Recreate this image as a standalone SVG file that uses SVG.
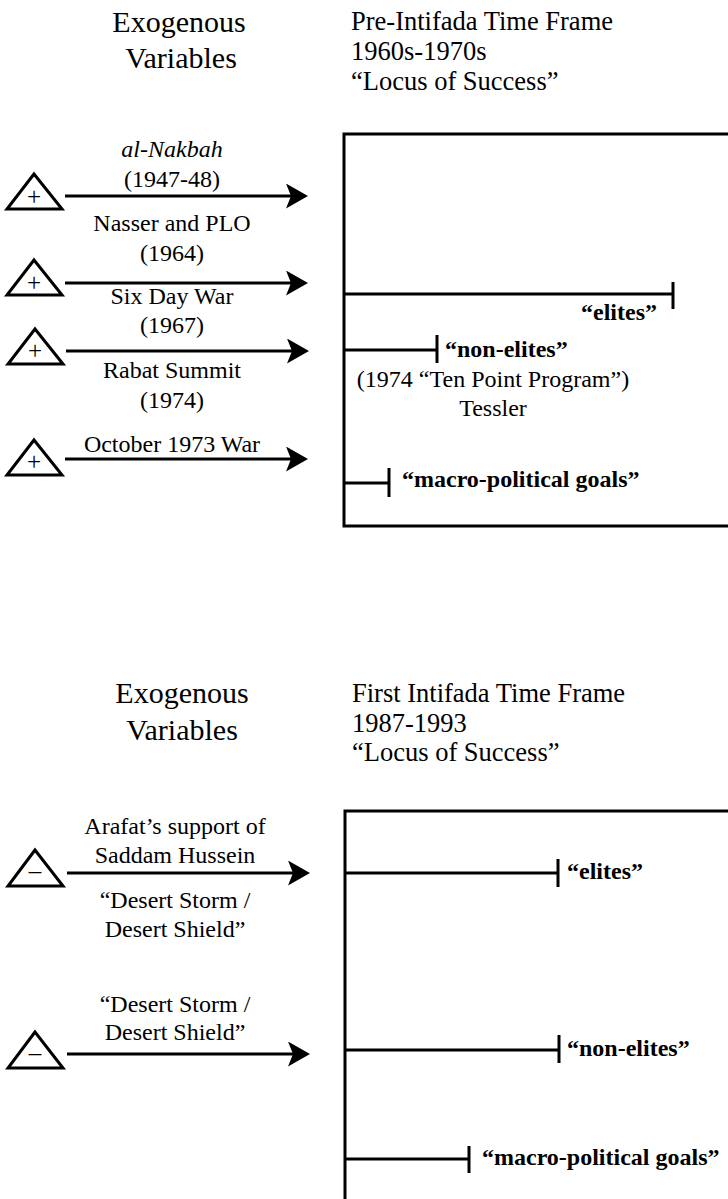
<svg xmlns="http://www.w3.org/2000/svg" width="728" height="1199" viewBox="0 0 728 1199">
<style>
text{font-family:"Liberation Serif","Times New Roman",serif;fill:#000}
.hd{font-size:30px;text-anchor:middle}
.tf{font-size:26.5px}
.lb{font-size:24px;text-anchor:middle}
.b{font-size:24px;font-weight:bold}
.sg{font-size:25px;text-anchor:middle}
.ln{stroke:#000;stroke-width:3;fill:none}
.tri{stroke:#000;stroke-width:3;fill:#fff;stroke-linejoin:miter}
</style>
<defs>
<marker id="ah" markerUnits="userSpaceOnUse" markerWidth="23" markerHeight="26" refX="18" refY="12.5" orient="auto" viewBox="0 0 23 26">
<path d="M0,0 L22,12.5 L0,25 L5,12.5 Z" fill="#000"/>
</marker>
</defs>
<rect width="728" height="1199" fill="#fff"/>

<!-- Top section -->
<g id="exo-top">
<text class="hd" x="179" y="32">Exogenous</text>
<text class="hd" x="181" y="68">Variables</text>
</g>
<g id="frame-top-title">
<text class="tf" x="351" y="30">Pre-Intifada Time Frame</text>
<text class="tf" x="351" y="60">1960s-1970s</text>
<text class="tf" x="351" y="90">“Locus of Success”</text>
</g>
<g id="frame-top">
<path class="ln" d="M740,134 H344 V526 H740"/>
</g>
<g id="t1"><path class="tri" d="M34,174 L7,209 L62,209 Z"/><text class="sg" x="34" y="205">+</text></g>
<g id="t2"><path class="tri" d="M34,260 L7,295 L62,295 Z"/><text class="sg" x="34" y="291">+</text></g>
<g id="t3"><path class="tri" d="M35,329 L8,364 L63,364 Z"/><text class="sg" x="35" y="359">+</text></g>
<g id="t4"><path class="tri" d="M34,440 L7,475 L62,475 Z"/><text class="sg" x="34" y="470">+</text></g>

<g id="lbl-top">
<text class="lb" x="172" y="157" font-style="italic">al-Nakbah</text>
<text class="lb" x="172" y="187">(1947-48)</text>
<text class="lb" x="172" y="231">Nasser and PLO</text>
<text class="lb" x="172" y="261">(1964)</text>
<text class="lb" x="172" y="304">Six Day War</text>
<text class="lb" x="172" y="333">(1967)</text>
<text class="lb" x="172" y="378">Rabat Summit</text>
<text class="lb" x="172" y="408">(1974)</text>
<text class="lb" x="172" y="452">October 1973 War</text>
</g>

<g id="out-top">
<text class="b" x="657" y="320" text-anchor="end">“elites”</text>
<text class="b" x="445" y="357">“non-elites”</text>
<text class="lb" x="493" y="387">(1974 “Ten Point Program”)</text>
<text class="lb" x="493" y="416">Tessler</text>
<text class="b" x="402" y="487">“macro-political goals”</text>
</g>

<!-- Bottom section -->
<g id="exo-bottom">
<text class="hd" x="182" y="703">Exogenous</text>
<text class="hd" x="182" y="740">Variables</text>
</g>
<g id="frame-bottom-title">
<text class="tf" x="352" y="702">First Intifada Time Frame</text>
<text class="tf" x="352" y="732">1987-1993</text>
<text class="tf" x="352" y="761">“Locus of Success”</text>
</g>
<g id="frame-bottom">
<path class="ln" d="M740,811 H345 V1210"/>
</g>
<g id="t5"><path class="tri" d="M35,850 L8,886 L63,886 Z"/><text class="sg" x="35" y="879">–</text></g>
<g id="t6"><path class="tri" d="M35,1032 L8,1068 L63,1068 Z"/><text class="sg" x="35" y="1061">–</text></g>

<g id="lbl-bottom">
<text class="lb" x="175" y="834">Arafat’s support of</text>
<text class="lb" x="175" y="863">Saddam Hussein</text>
<text class="lb" x="175" y="908">“Desert Storm /</text>
<text class="lb" x="175" y="937">Desert Shield”</text>
<text class="lb" x="175" y="1012">“Desert Storm /</text>
<text class="lb" x="175" y="1040">Desert Shield”</text>
</g>

<g id="out-bottom">
<text class="b" x="567" y="879">“elites”</text>
<text class="b" x="567" y="1056">“non-elites”</text>
<text class="b" x="482" y="1165">“macro-political goals”</text>
</g>

<g id="connectors">
<line class="ln" x1="65" y1="196" x2="304" y2="196" marker-end="url(#ah)"/>
<line class="ln" x1="65" y1="283" x2="304" y2="283" marker-end="url(#ah)"/>
<line class="ln" x1="66" y1="351" x2="305" y2="351" marker-end="url(#ah)"/>
<line class="ln" x1="65" y1="459" x2="304" y2="459" marker-end="url(#ah)"/>
<line class="ln" x1="67" y1="873" x2="306" y2="873" marker-end="url(#ah)"/>
<line class="ln" x1="67" y1="1054" x2="306" y2="1054" marker-end="url(#ah)"/>

<path class="ln" d="M344,294 H673 M673,282 V309"/>
<path class="ln" d="M344,350 H437 M437,335 V363"/>
<path class="ln" d="M344,483 H389 M389,468 V497"/>
<path class="ln" d="M345,873 H558 M558,859 V887"/>
<path class="ln" d="M345,1050 H559 M559,1035 V1063"/>
<path class="ln" d="M345,1159 H469 M469,1146 V1173"/>
</g>
</svg>
